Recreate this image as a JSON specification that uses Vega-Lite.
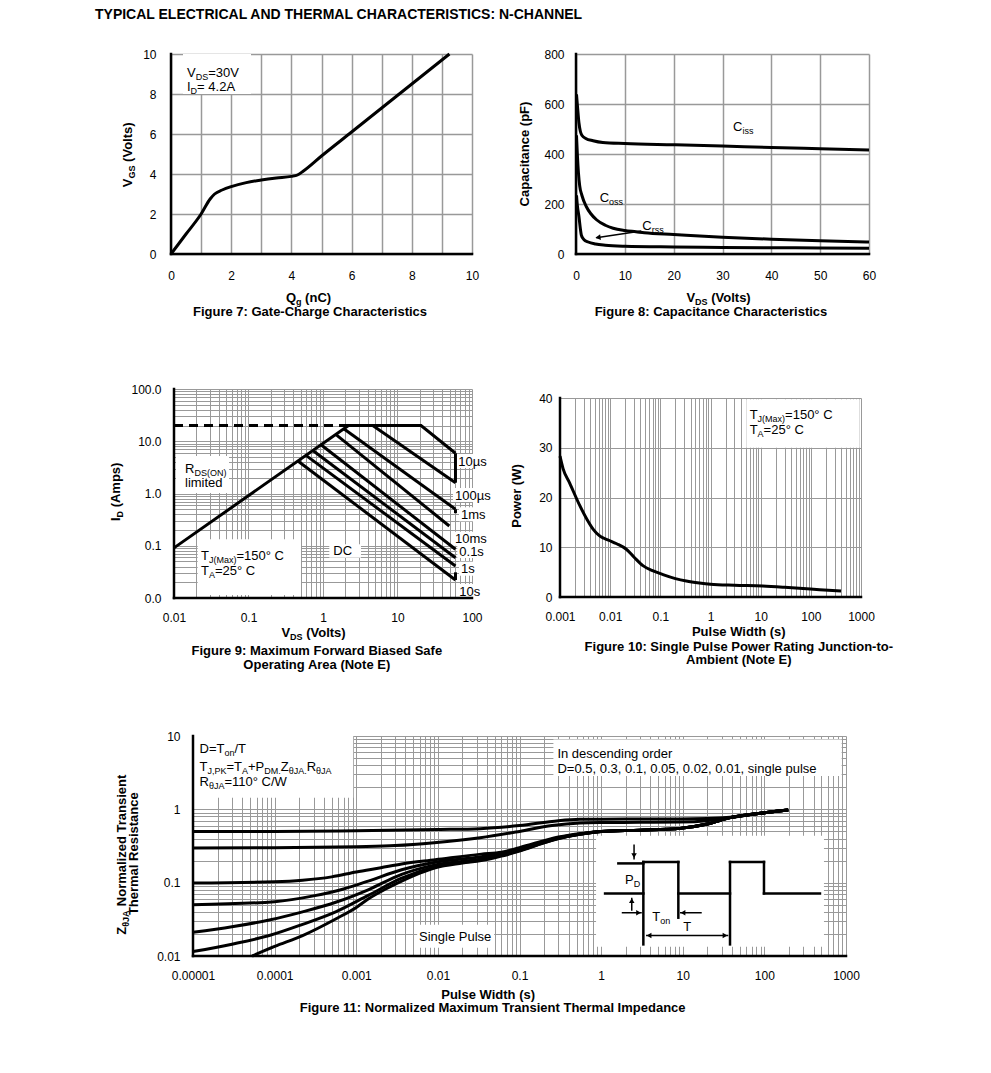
{
"$schema": "https://vega.github.io/schema/vega-lite/v6.json",
"background": "white",
"padding": {"left": 95, "top": 0, "right": 0, "bottom": 0},
"spacing": 0,
"align": "none",
"config": {
  "view": {"stroke": null},
  "font": "Liberation Sans",
  "axis": {"domain": false, "ticks": false, "tickSize": 0, "labelFont": "Liberation Sans", "labelFontSize": 12, "labelColor": "#000000", "gridColor": "#999999", "gridWidth": 1, "gridOpacity": 1, "labelFlush": false, "labelOverlap": false, "labelBound": false}
},
"datasets": {
  "sp": [{"x": 0, "y": 1, "x2": 0, "y2": 1}],
  "a0": [{"x": 0, "y": 25, "x2": 500, "y2": 0}],
  "t0": [{"t": "TYPICAL ELECTRICAL AND THERMAL CHARACTERISTICS: N-CHANNEL", "x": 0, "y": 6}],
  "a7": [{"x": -2.4585, "y": 11.4, "x2": 10.9635, "y2": -3.35}],
  "b7": [{"x": 0.3987, "x2": 2.6578, "y": 8.0, "y2": 10}],
  "c7": [{"x":0,"y":0},{"x":0.5,"y":1.0},{"x":1.0,"y":2.0},{"x":1.3,"y":2.75},{"x":1.45,"y":3.0},{"x":1.7,"y":3.2},{"x":2.0,"y":3.37},{"x":2.5,"y":3.57},{"x":3.0,"y":3.7},{"x":3.5,"y":3.8},{"x":4.0,"y":3.88},{"x":4.2,"y":3.95},{"x":4.4,"y":4.15},{"x":5.0,"y":4.9},{"x":6.0,"y":6.1},{"x":7.0,"y":7.3},{"x":8.0,"y":8.5},{"x":9.0,"y":9.7},{"x":9.25,"y":10.0}],
  "f7": [{"x":0,"y":0,"x2":0,"y2":10},{"x":0,"y":0,"x2":10,"y2":0}],
  "t7": [
    {"k":"n","t":"V","x":0.5316,"y":8.835},
    {"k":"s","t":"DS","x":0.8206,"y":8.685},
    {"k":"n","t":"=30V","x":1.2359,"y":8.835},
    {"k":"n","t":"I","x":0.5316,"y":8.17},
    {"k":"s","t":"D","x":0.6512,"y":8.02},
    {"k":"n","t":"= 4.2A","x":0.8671,"y":8.17},
    {"k":"r","t":"V","x":-1.2957,"y":3.34},
    {"k":"rs","t":"GS","x":-1.196,"y":3.775},
    {"k":"r","t":"(Volts)","x":-1.2957,"y":4.6055},
    {"k":"b","t":"Q","x":3.8173,"y":-2.415},
    {"k":"bs","t":"g","x":4.1528,"y":-2.565},
    {"k":"b","t":"(nC)","x":4.4554,"y":-2.415},
    {"k":"bc","t":"Figure 7: Gate-Charge Characteristics","x":4.6179,"y":-3.08}
  ],
  "a8": [{"x": -14.95, "y": 912, "x2": 66.967, "y2": -268}],
  "c8": [
    {"s":"Ciss","x":0.1,"y":639},{"s":"Ciss","x":0.35,"y":580},{"s":"Ciss","x":0.6,"y":525},{"s":"Ciss","x":0.9,"y":490},{"s":"Ciss","x":1.2,"y":475},{"s":"Ciss","x":2,"y":462},{"s":"Ciss","x":3.5,"y":453},{"s":"Ciss","x":5.5,"y":446},{"s":"Ciss","x":10,"y":442},{"s":"Ciss","x":20,"y":437},{"s":"Ciss","x":30,"y":432},{"s":"Ciss","x":40,"y":426},{"s":"Ciss","x":50,"y":421},{"s":"Ciss","x":60,"y":416},
    {"s":"Coss","x":0.1,"y":475},{"s":"Coss","x":0.3,"y":390},{"s":"Coss","x":0.5,"y":325},{"s":"Coss","x":0.76,"y":272},{"s":"Coss","x":1.2,"y":235},{"s":"Coss","x":2.1,"y":190},{"s":"Coss","x":3,"y":162},{"s":"Coss","x":4.2,"y":137},{"s":"Coss","x":6,"y":115},{"s":"Coss","x":7.6,"y":103},{"s":"Coss","x":10,"y":94},{"s":"Coss","x":12.3,"y":89},{"s":"Coss","x":14,"y":85},{"s":"Coss","x":20,"y":78},{"s":"Coss","x":30,"y":67},{"s":"Coss","x":40,"y":59},{"s":"Coss","x":50,"y":53},{"s":"Coss","x":60,"y":48},
    {"s":"Crss","x":0.1,"y":235},{"s":"Crss","x":0.3,"y":190},{"s":"Crss","x":0.6,"y":150},{"s":"Crss","x":0.9,"y":100},{"s":"Crss","x":1.1,"y":75},{"s":"Crss","x":1.6,"y":58},{"s":"Crss","x":2.5,"y":48},{"s":"Crss","x":4,"y":40},{"s":"Crss","x":6,"y":35},{"s":"Crss","x":10,"y":31},{"s":"Crss","x":20,"y":28},{"s":"Crss","x":30,"y":26},{"s":"Crss","x":40,"y":25},{"s":"Crss","x":50,"y":24},{"s":"Crss","x":60,"y":23}
  ],
  "f8": [{"x":0,"y":0,"x2":0,"y2":800},{"x":0,"y":0,"x2":60,"y2":0}],
  "r8": [{"x":13.373,"y":92,"x2":4.157,"y2":65.2}],
  "h8": [{"x":4.505,"y":66}],
  "t8": [
    {"k":"n","t":"C","x":32.152,"y":493.4},{"k":"s","t":"iss","x":34.077,"y":481.4},
    {"k":"n","t":"C","x":4.8536,"y":206.6},{"k":"s","t":"oss","x":6.7786,"y":194.6},
    {"k":"n","t":"C","x":13.578,"y":97.4},{"k":"s","t":"rss","x":15.503,"y":85.4},
    {"k":"rc","t":"Capacitance (pF)","x":-9.625,"y":400},
    {"k":"b","t":"V","x":22.609,"y":-193.2},{"k":"bs","t":"DS","x":24.39,"y":-205.2},{"k":"b","t":"(Volts)","x":27.688,"y":-193.2},
    {"k":"bc","t":"Figure 8: Capacitance Characteristics","x":27.647,"y":-246.4}
  ],
  "a9": [{"x":0.00092553,"y":2001,"x2":245.1,"y2":0.00020691}],
  "b9": [
    {"x":0.010637,"x2":0.05474,"y":1.0224,"y2":5.221},
    {"x":0.020797,"x2":0.50663,"y":0.011413,"y2":0.13283},
    {"x":1.2148,"x2":3.2364,"y":0.059076,"y2":0.10662},
    {"x":61.56,"x2":167.6,"y":3.076,"y2":5.702},
    {"x":55.59,"x2":189.6,"y":0.6877,"y2":1.2746},
    {"x":66.91,"x2":162.0,"y":0.29369,"y2":0.54425},
    {"x":55.59,"x2":167.9,"y":0.10023,"y2":0.18572},
    {"x":63.49,"x2":153.7,"y":0.058306,"y2":0.10803},
    {"x":66.91,"x2":115.6,"y":0.026715,"y2":0.049514},
    {"x":63.49,"x2":137.5,"y":0.01,"y2":0.018526}
  ],
  "c9": [
    {"s":"a","x":0.01,"y":0.091},{"s":"a","x":2.2,"y":20},{"s":"a","x":20.7,"y":20},{"s":"a","x":60,"y":5.9},
    {"s":"b","x":4.65,"y":20},{"s":"b","x":60,"y":1.61},
    {"s":"c","x":1.9,"y":17.3},{"s":"c","x":60,"y":0.5},
    {"s":"d","x":1.48,"y":13.5},{"s":"d","x":49.6,"y":0.239},
    {"s":"e","x":0.94,"y":8.55},{"s":"e","x":60,"y":0.0855},
    {"s":"f","x":0.73,"y":6.64},{"s":"f","x":60,"y":0.0589},
    {"s":"g","x":0.59,"y":5.37},{"s":"g","x":60,"y":0.041},
    {"s":"h","x":0.46,"y":4.19},{"s":"h","x":60,"y":0.0221}
  ],
  "d9": [{"x":0.01,"y":20},{"x":2.2,"y":20}],
  "r9": [{"x":60,"y":5.9,"x2":60,"y2":1.61},{"x":60,"y":0.5,"x2":60,"y2":0.42},{"x":60,"y":0.031,"x2":60,"y2":0.0221}],
  "f9": [{"x":0.01,"y":0.01,"x2":0.01,"y2":100},{"x":0.01,"y":0.01,"x2":100,"y2":0.01}],
  "t9": [
    {"k":"n","t":"R","x":0.014053,"y":2.4734},{"k":"s","t":"DS(ON)","x":0.018785,"y":2.1673},{"k":"n","t":"limited","x":0.014053,"y":1.3113},
    {"k":"n","t":"T","x":0.02304,"y":0.0542},{"k":"s","t":"J(Max)","x":0.029404,"y":0.047485},{"k":"n","t":"=150° C","x":0.068803,"y":0.0542},
    {"k":"n","t":"T","x":0.02304,"y":0.027978},{"k":"s","t":"A","x":0.029404,"y":0.024521},{"k":"n","t":"=25° C","x":0.035399,"y":0.027978},
    {"k":"c","t":"DC","x":1.8382,"y":0.067559},
    {"k":"n","t":"10µs","x":65.49,"y":3.4119},
    {"k":"n","t":"100µs","x":59.137,"y":0.76264},
    {"k":"n","t":"1ms","x":71.16,"y":0.32577},
    {"k":"n","t":"10ms","x":59.137,"y":0.11115},
    {"k":"n","t":"0.1s","x":67.53,"y":0.06464},
    {"k":"n","t":"1s","x":71.16,"y":0.029623},
    {"k":"n","t":"10s","x":67.53,"y":0.011092},
    {"k":"r","t":"I","x":0.0019021,"y":0.297},{"k":"rs","t":"D","x":0.0020868,"y":0.34792},{"k":"r","t":"(Amps)","x":0.0019021,"y":0.54325},
    {"k":"b","t":"V","x":0.27641,"y":0.0017696},{"k":"bs","t":"DS","x":0.36172,"y":0.0015506},{"k":"b","t":"(Volts)","x":0.59484,"y":0.0017696},
    {"k":"bc","t":"Figure 9: Maximum Forward Biased Safe","x":0.82541,"y":0.00082339},
    {"k":"bc","t":"Operating Area (Note E)","x":0.82541,"y":0.00043855}
  ],
  "a10": [{"x":0.000073077,"y":41.608,"x2":6868,"y2":-17.889}],
  "b10": [{"x":5.169,"x2":941.3,"y":30.01,"y2":39.74}],
  "c10": [{"x":0.001,"y":28.3},{"x":0.00115,"y":25.8},{"x":0.00156,"y":22.9},{"x":0.0025,"y":18.3},{"x":0.0035,"y":15.5},{"x":0.0046,"y":13.6},{"x":0.006,"y":12.4},{"x":0.0075,"y":11.8},{"x":0.0105,"y":11.2},{"x":0.0135,"y":10.7},{"x":0.021,"y":9.6},{"x":0.03,"y":8.0},{"x":0.045,"y":6.3},{"x":0.07,"y":5.3},{"x":0.113,"y":4.5},{"x":0.2,"y":3.7},{"x":0.33,"y":3.2},{"x":0.6,"y":2.8},{"x":1.0,"y":2.55},{"x":3,"y":2.35},{"x":11,"y":2.2},{"x":30,"y":1.95},{"x":70,"y":1.7},{"x":150,"y":1.45},{"x":400,"y":1.2}],
  "f10": [{"x":0.001,"y":0,"x2":0.001,"y2":40},{"x":0.001,"y":0,"x2":1000,"y2":0}],
  "t10": [
    {"k":"n","t":"T","x":6.0412,"y":35.789},{"k":"s","t":"J(Max)","x":8.683,"y":35.186},{"k":"n","t":"=150° C","x":30.67,"y":35.789},
    {"k":"n","t":"T","x":6.0412,"y":32.774},{"k":"s","t":"A","x":8.683,"y":32.171},{"k":"n","t":"=25° C","x":11.43,"y":32.774},
    {"k":"rc","t":"Power (W)","x":0.00016395,"y":20.302},
    {"k":"bc","t":"Pulse Width (s)","x":3.6645,"y":-7.769},
    {"k":"bc","t":"Figure 10: Single Pulse Power Rating Junction-to-","x":3.6645,"y":-10.784},
    {"k":"bc","t":"Ambient (Note E)","x":3.6645,"y":-13.457}
  ],
  "a11": [{"x":6.5463e-7,"y":45.58,"x2":4577,"y2":0.0008995}],
  "b11": [
    {"x":0.00001,"x2":0.000918,"y":1.441,"y2":10},
    {"x":0.2602,"x2":884.5,"y":2.849,"y2":8.99},
    {"x":0.00558,"x2":0.0489,"y":0.01298,"y2":0.0267},
    {"x":0.867,"x2":537,"y":0.01339,"y2":0.437}
  ],
  "c11": [
    {"s":"D5","x":0.00001,"y":0.5},{"s":"D5","x":0.0001,"y":0.5},{"s":"D5","x":0.001,"y":0.51},{"s":"D5","x":0.01,"y":0.53},{"s":"D5","x":0.033,"y":0.545},{"s":"D5","x":0.1,"y":0.6},{"s":"D5","x":0.3,"y":0.7},{"s":"D5","x":0.55,"y":0.73},{"s":"D5","x":1,"y":0.735},{"s":"D5","x":3,"y":0.74},{"s":"D5","x":9.3,"y":0.74},{"s":"D5","x":20,"y":0.75},{"s":"D5","x":38,"y":0.78},{"s":"D5","x":100,"y":0.9},{"s":"D5","x":196,"y":0.98},
    {"s":"D3","x":0.00001,"y":0.297},{"s":"D3","x":0.0001,"y":0.3},{"s":"D3","x":0.001,"y":0.31},{"s":"D3","x":0.003,"y":0.32},{"s":"D3","x":0.009,"y":0.35},{"s":"D3","x":0.033,"y":0.41},{"s":"D3","x":0.1,"y":0.5},{"s":"D3","x":0.25,"y":0.6},{"s":"D3","x":0.55,"y":0.65},{"s":"D3","x":1,"y":0.66},{"s":"D3","x":3,"y":0.665},{"s":"D3","x":9.3,"y":0.67},{"s":"D3","x":20,"y":0.7},{"s":"D3","x":38,"y":0.77},{"s":"D3","x":100,"y":0.9},{"s":"D3","x":196,"y":0.98},
    {"s":"D1","x":0.00001,"y":0.099},{"s":"D1","x":0.0001,"y":0.103},{"s":"D1","x":0.00022,"y":0.108},{"s":"D1","x":0.0005,"y":0.12},{"s":"D1","x":0.001,"y":0.14},{"s":"D1","x":0.002,"y":0.16},{"s":"D1","x":0.0036,"y":0.18},{"s":"D1","x":0.0093,"y":0.205},{"s":"D1","x":0.034,"y":0.245},{"s":"D1","x":0.06,"y":0.26},{"s":"D1","x":0.1,"y":0.3},{"s":"D1","x":0.3,"y":0.42},{"s":"D1","x":0.57,"y":0.47},{"s":"D1","x":1,"y":0.5},{"s":"D1","x":3,"y":0.52},{"s":"D1","x":9.3,"y":0.55},{"s":"D1","x":20,"y":0.63},{"s":"D1","x":38,"y":0.77},{"s":"D1","x":100,"y":0.9},{"s":"D1","x":196,"y":0.98},
    {"s":"D05","x":0.00001,"y":0.05},{"s":"D05","x":0.0001,"y":0.055},{"s":"D05","x":0.0003,"y":0.066},{"s":"D05","x":0.0007,"y":0.082},{"s":"D05","x":0.0014,"y":0.105},{"s":"D05","x":0.0036,"y":0.15},{"s":"D05","x":0.0093,"y":0.19},{"s":"D05","x":0.034,"y":0.225},{"s":"D05","x":0.1,"y":0.285},{"s":"D05","x":0.3,"y":0.41},{"s":"D05","x":0.57,"y":0.465},{"s":"D05","x":1,"y":0.5},{"s":"D05","x":3,"y":0.52},{"s":"D05","x":9.3,"y":0.55},{"s":"D05","x":20,"y":0.63},{"s":"D05","x":38,"y":0.77},{"s":"D05","x":100,"y":0.9},{"s":"D05","x":196,"y":0.98},
    {"s":"D02","x":0.00001,"y":0.021},{"s":"D02","x":0.00003,"y":0.025},{"s":"D02","x":0.000086,"y":0.031},{"s":"D02","x":0.00022,"y":0.04},{"s":"D02","x":0.00056,"y":0.054},{"s":"D02","x":0.0014,"y":0.08},{"s":"D02","x":0.0036,"y":0.13},{"s":"D02","x":0.0093,"y":0.175},{"s":"D02","x":0.034,"y":0.21},{"s":"D02","x":0.1,"y":0.28},{"s":"D02","x":0.3,"y":0.405},{"s":"D02","x":0.57,"y":0.46},{"s":"D02","x":1,"y":0.5},{"s":"D02","x":3,"y":0.52},{"s":"D02","x":9.3,"y":0.55},{"s":"D02","x":20,"y":0.63},{"s":"D02","x":38,"y":0.77},{"s":"D02","x":100,"y":0.9},{"s":"D02","x":196,"y":0.98},
    {"s":"D01","x":0.00001,"y":0.0115},{"s":"D01","x":0.00003,"y":0.0145},{"s":"D01","x":0.000086,"y":0.019},{"s":"D01","x":0.00022,"y":0.027},{"s":"D01","x":0.00056,"y":0.04},{"s":"D01","x":0.0014,"y":0.067},{"s":"D01","x":0.0036,"y":0.115},{"s":"D01","x":0.0093,"y":0.165},{"s":"D01","x":0.034,"y":0.205},{"s":"D01","x":0.1,"y":0.275},{"s":"D01","x":0.3,"y":0.4},{"s":"D01","x":0.57,"y":0.46},{"s":"D01","x":1,"y":0.5},{"s":"D01","x":3,"y":0.52},{"s":"D01","x":9.3,"y":0.55},{"s":"D01","x":20,"y":0.63},{"s":"D01","x":38,"y":0.77},{"s":"D01","x":100,"y":0.9},{"s":"D01","x":196,"y":0.98},
    {"s":"SP","x":0.000053,"y":0.01},{"s":"SP","x":0.0001,"y":0.0135},{"s":"SP","x":0.00022,"y":0.019},{"s":"SP","x":0.00056,"y":0.032},{"s":"SP","x":0.001,"y":0.046},{"s":"SP","x":0.0014,"y":0.06},{"s":"SP","x":0.0022,"y":0.08},{"s":"SP","x":0.0036,"y":0.105},{"s":"SP","x":0.006,"y":0.135},{"s":"SP","x":0.0093,"y":0.16},{"s":"SP","x":0.02,"y":0.185},{"s":"SP","x":0.034,"y":0.2},{"s":"SP","x":0.06,"y":0.23},{"s":"SP","x":0.1,"y":0.27},{"s":"SP","x":0.2,"y":0.35},{"s":"SP","x":0.3,"y":0.4},{"s":"SP","x":0.57,"y":0.46},{"s":"SP","x":1,"y":0.5},{"s":"SP","x":3,"y":0.52},{"s":"SP","x":9.3,"y":0.55},{"s":"SP","x":20,"y":0.63},{"s":"SP","x":38,"y":0.77},{"s":"SP","x":100,"y":0.9},{"s":"SP","x":196,"y":0.98}
  ],
  "w11": [
    {"x":1.118,"y":0.0714,"x2":3.291,"y2":0.0714},
    {"x":3.291,"y":0.0144,"x2":3.291,"y2":0.1914},
    {"x":3.291,"y":0.1914,"x2":8.83,"y2":0.1914},
    {"x":8.83,"y":0.1914,"x2":8.83,"y2":0.0333},
    {"x":8.83,"y":0.0714,"x2":37.93,"y2":0.0714},
    {"x":37.93,"y":0.0144,"x2":37.93,"y2":0.1914},
    {"x":37.93,"y":0.1914,"x2":98.9,"y2":0.1914},
    {"x":98.9,"y":0.1914,"x2":98.9,"y2":0.0714},
    {"x":98.9,"y":0.0714,"x2":479.8,"y2":0.0714},
    {"x":1.626,"y":0.1831,"x2":3.291,"y2":0.1831}
  ],
  "r11": [
    {"x":2.532,"y":0.3326,"x2":2.532,"y2":0.2077},
    {"x":2.373,"y":0.0415,"x2":2.373,"y2":0.0624},
    {"x":1.79,"y":0.0389,"x2":3.146,"y2":0.0389},
    {"x":9.26,"y":0.0389,"x2":17.08,"y2":0.0389},
    {"x":3.551,"y":0.0191,"x2":36.14,"y2":0.0191}
  ],
  "h11": [
    {"x":2.532,"y":0.2332,"dir":"down"},
    {"x":2.373,"y":0.05676,"dir":"up"},
    {"x":2.8742,"y":0.0389,"dir":"right"},
    {"x":10.079,"y":0.0389,"dir":"left"},
    {"x":3.8658,"y":0.0191,"dir":"left"},
    {"x":32.94,"y":0.0191,"dir":"right"}
  ],
  "f11": [{"x":0.00001,"y":0.01,"x2":0.00001,"y2":10},{"x":0.00001,"y":0.01,"x2":1000,"y2":0.01}],
  "t11": [
    {"k":"n","t":"D=T","x":0.000012045,"y":5.8563},{"k":"s","t":"on","x":0.000024302,"y":5.3311},{"k":"n","t":"/T","x":0.000032218,"y":5.8563},
    {"k":"n","t":"T","x":0.000012045,"y":3.349},{"k":"s","t":"J,PK","x":0.000015067,"y":3.0479},{"k":"n","t":"=T","x":0.000025742,"y":3.349},{"k":"s","t":"A","x":0.000039883,"y":3.0479},{"k":"n","t":"+P","x":0.000047226,"y":3.349},{"k":"s","t":"DM.","x":0.000074697,"y":3.0479},{"k":"n","t":"Z","x":0.00011897,"y":3.349},{"k":"s","t":"θJA.","x":0.00014884,"y":3.0479},{"k":"n","t":"R","x":0.00024713,"y":3.349},{"k":"s","t":"θJA","x":0.00032215,"y":3.0479},
    {"k":"n","t":"R","x":0.000012045,"y":2.1038},{"k":"s","t":"θJA","x":0.000015698,"y":1.9151},{"k":"n","t":"=110° C/W","x":0.000024297,"y":2.1038},
    {"k":"n","t":"In descending order","x":0.29131,"y":5.0061},
    {"k":"n","t":"D=0.5, 0.3, 0.1, 0.05, 0.02, 0.01, single pulse","x":0.29131,"y":3.1262},
    {"k":"c","t":"Single Pulse","x":0.016281,"y":0.01584},
    {"k":"n","t":"P","x":1.9648,"y":0.095766},{"k":"s","t":"D","x":2.5089,"y":0.087174},
    {"k":"n","t":"T","x":4.2423,"y":0.029691},{"k":"s","t":"on","x":5.3063,"y":0.02702},
    {"k":"n","t":"T","x":10.165,"y":0.021689},
    {"k":"r","t":"Z","x":0.0000015253,"y":0.019492},{"k":"rs","t":"θJA","x":0.0000016596,"y":0.025003},{"k":"r","t":"Normalized Transient","x":0.0000015253,"y":0.047757},
    {"k":"rc","t":"Thermal Resistance","x":0.0000021146,"y":0.24838},
    {"k":"bc","t":"Pulse Width (s)","x":0.041275,"y":0.0025876},
    {"k":"bc","t":"Figure 11: Normalized Maximum Transient Thermal Impedance","x":0.046879,"y":0.0017043}
  ]
},
"vconcat": [
  {
    "width": 500, "height": 25,
    "encoding": {
      "x": {"field": "x", "type": "quantitative", "scale": {"domain": [0, 500], "nice": false, "zero": false}, "axis": null},
      "y": {"field": "y", "type": "quantitative", "scale": {"domain": [0, 25], "nice": false, "zero": false}, "axis": null}
    },
    "layer": [
      {"data": {"name": "a0"}, "mark": {"type": "rule", "opacity": 0}, "encoding": {"x2": {"field": "x2"}, "y2": {"field": "y2"}}},
      {"data": {"name": "t0"}, "mark": {"type": "text", "align": "left", "baseline": "alphabetic", "fontSize": 14, "fontWeight": "bold", "color": "black"}, "encoding": {"text": {"field": "t"}}}
    ]
  },
  {"spacing": 0, "align": "none", "hconcat": [
    {
      "width": 1, "height": 1, "data": {"name": "sp"},
      "mark": {"type": "rule", "opacity": 0},
      "encoding": {"x": {"field": "x", "type": "quantitative", "scale": {"domain": [0, 1]}, "axis": null}, "y": {"field": "y", "type": "quantitative", "scale": {"domain": [0, 1]}, "axis": null}, "x2": {"field": "x2"}, "y2": {"field": "y2"}}
    },
    {
      "width": 301, "height": 200,
      "encoding": {
        "x": {"field": "x", "type": "quantitative", "scale": {"domain": [0, 10], "nice": false, "zero": false}, "axis": {"title": null, "values": [0,1,2,3,4,5,6,7,8,9,10], "labelExpr": "datum.value % 2 === 0 ? datum.label : ''", "gridWidth": 1.5, "labelPadding": 16}},
        "y": {"field": "y", "type": "quantitative", "scale": {"domain": [0, 10], "nice": false, "zero": false}, "axis": {"title": null, "values": [0,2,4,6,8,10], "gridWidth": 1.5, "labelPadding": 15}}
      },
      "layer": [
        {"data": {"name": "a7"}, "mark": {"type": "rule", "opacity": 0}, "encoding": {"x2": {"field": "x2"}, "y2": {"field": "y2"}}},
        {"data": {"name": "b7"}, "mark": {"type": "rect", "fill": "white"}, "encoding": {"x2": {"field": "x2"}, "y2": {"field": "y2"}}},
        {"data": {"name": "c7"}, "mark": {"type": "line", "color": "black", "strokeWidth": 3, "interpolate": "monotone"}},
        {"data": {"name": "f7"}, "mark": {"type": "rule", "color": "black", "strokeWidth": 2.5, "strokeCap": "square"}, "encoding": {"x2": {"field": "x2"}, "y2": {"field": "y2"}}},
        {"data": {"name": "t7"}, "transform": [{"filter": "datum.k == 'n'"}], "mark": {"type": "text", "align": "left", "baseline": "alphabetic", "fontSize": 13, "color": "black"}, "encoding": {"text": {"field": "t"}}},
        {"data": {"name": "t7"}, "transform": [{"filter": "datum.k == 's'"}], "mark": {"type": "text", "align": "left", "baseline": "alphabetic", "fontSize": 9, "color": "black"}, "encoding": {"text": {"field": "t"}}},
        {"data": {"name": "t7"}, "transform": [{"filter": "datum.k == 'r'"}], "mark": {"type": "text", "align": "left", "baseline": "alphabetic", "fontSize": 13, "fontWeight": "bold", "angle": 270, "color": "black"}, "encoding": {"text": {"field": "t"}}},
        {"data": {"name": "t7"}, "transform": [{"filter": "datum.k == 'rs'"}], "mark": {"type": "text", "align": "left", "baseline": "alphabetic", "fontSize": 9, "fontWeight": "bold", "angle": 270, "color": "black"}, "encoding": {"text": {"field": "t"}}},
        {"data": {"name": "t7"}, "transform": [{"filter": "datum.k == 'b'"}], "mark": {"type": "text", "align": "left", "baseline": "alphabetic", "fontSize": 13, "fontWeight": "bold", "color": "black"}, "encoding": {"text": {"field": "t"}}},
        {"data": {"name": "t7"}, "transform": [{"filter": "datum.k == 'bs'"}], "mark": {"type": "text", "align": "left", "baseline": "alphabetic", "fontSize": 9, "fontWeight": "bold", "color": "black"}, "encoding": {"text": {"field": "t"}}},
        {"data": {"name": "t7"}, "transform": [{"filter": "datum.k == 'bc'"}], "mark": {"type": "text", "align": "center", "baseline": "alphabetic", "fontSize": 13, "fontWeight": "bold", "color": "black"}, "encoding": {"text": {"field": "t"}}}
      ]
    },
    {
      "width": 293, "height": 200,
      "encoding": {
        "x": {"field": "x", "type": "quantitative", "scale": {"domain": [0, 60], "nice": false, "zero": false}, "axis": {"title": null, "values": [0,10,20,30,40,50,60], "gridWidth": 1.5, "labelPadding": 16}},
        "y": {"field": "y", "type": "quantitative", "scale": {"domain": [0, 800], "nice": false, "zero": false}, "axis": {"title": null, "values": [0,200,400,600,800], "gridWidth": 1.5, "labelPadding": 12}}
      },
      "layer": [
        {"data": {"name": "a8"}, "mark": {"type": "rule", "opacity": 0}, "encoding": {"x2": {"field": "x2"}, "y2": {"field": "y2"}}},
        {"data": {"name": "c8"}, "mark": {"type": "line", "color": "black", "strokeWidth": 3, "interpolate": "monotone"}, "encoding": {"detail": {"field": "s"}}},
        {"data": {"name": "r8"}, "mark": {"type": "rule", "color": "black", "strokeWidth": 1.5}, "encoding": {"x2": {"field": "x2"}, "y2": {"field": "y2"}}},
        {"data": {"name": "h8"}, "mark": {"type": "point", "shape": "triangle-left", "filled": true, "color": "black", "opacity": 1, "size": 35, "angle": 352}},
        {"data": {"name": "f8"}, "mark": {"type": "rule", "color": "black", "strokeWidth": 2.5, "strokeCap": "square"}, "encoding": {"x2": {"field": "x2"}, "y2": {"field": "y2"}}},
        {"data": {"name": "t8"}, "transform": [{"filter": "datum.k == 'n'"}], "mark": {"type": "text", "align": "left", "baseline": "alphabetic", "fontSize": 13, "color": "black"}, "encoding": {"text": {"field": "t"}}},
        {"data": {"name": "t8"}, "transform": [{"filter": "datum.k == 's'"}], "mark": {"type": "text", "align": "left", "baseline": "alphabetic", "fontSize": 9, "color": "black"}, "encoding": {"text": {"field": "t"}}},
        {"data": {"name": "t8"}, "transform": [{"filter": "datum.k == 'rc'"}], "mark": {"type": "text", "align": "center", "baseline": "alphabetic", "fontSize": 13, "fontWeight": "bold", "angle": 270, "color": "black"}, "encoding": {"text": {"field": "t"}}},
        {"data": {"name": "t8"}, "transform": [{"filter": "datum.k == 'b'"}], "mark": {"type": "text", "align": "left", "baseline": "alphabetic", "fontSize": 13, "fontWeight": "bold", "color": "black"}, "encoding": {"text": {"field": "t"}}},
        {"data": {"name": "t8"}, "transform": [{"filter": "datum.k == 'bs'"}], "mark": {"type": "text", "align": "left", "baseline": "alphabetic", "fontSize": 9, "fontWeight": "bold", "color": "black"}, "encoding": {"text": {"field": "t"}}},
        {"data": {"name": "t8"}, "transform": [{"filter": "datum.k == 'bc'"}], "mark": {"type": "text", "align": "center", "baseline": "alphabetic", "fontSize": 13, "fontWeight": "bold", "color": "black"}, "encoding": {"text": {"field": "t"}}}
      ]
    }
  ]},
  {"spacing": 0, "align": "none", "hconcat": [
    {
      "width": 1, "height": 1, "data": {"name": "sp"},
      "mark": {"type": "rule", "opacity": 0},
      "encoding": {"x": {"field": "x", "type": "quantitative", "scale": {"domain": [0, 1]}, "axis": null}, "y": {"field": "y", "type": "quantitative", "scale": {"domain": [0, 1]}, "axis": null}, "x2": {"field": "x2"}, "y2": {"field": "y2"}}
    },
    {
      "width": 298, "height": 209,
      "encoding": {
        "x": {"field": "x", "type": "quantitative", "scale": {"type": "log", "domain": [0.01, 100], "nice": false}, "axis": {"title": null, "values": [0.01,0.02,0.03,0.04,0.05,0.06,0.07,0.08,0.09,0.1,0.2,0.3,0.4,0.5,0.6,0.7,0.8,0.9,1,2,3,4,5,6,7,8,9,10,20,30,40,50,60,70,80,90,100], "format": "~f", "labelExpr": "abs(log(datum.value)/LN10 - round(log(datum.value)/LN10)) < 0.001 ? datum.label : ''", "labelPadding": 14}},
        "y": {"field": "y", "type": "quantitative", "scale": {"type": "log", "domain": [0.01, 100], "nice": false}, "axis": {"title": null, "values": [0.01,0.02,0.03,0.04,0.05,0.06,0.07,0.08,0.09,0.1,0.2,0.3,0.4,0.5,0.6,0.7,0.8,0.9,1,2,3,4,5,6,7,8,9,10,20,30,40,50,60,70,80,90,100], "format": ".1f", "labelExpr": "abs(log(datum.value)/LN10 - round(log(datum.value)/LN10)) < 0.001 ? datum.label : ''", "labelPadding": 13}}
      },
      "layer": [
        {"data": {"name": "a9"}, "mark": {"type": "rule", "opacity": 0}, "encoding": {"x2": {"field": "x2"}, "y2": {"field": "y2"}}},
        {"data": {"name": "b9"}, "mark": {"type": "rect", "fill": "white"}, "encoding": {"x2": {"field": "x2"}, "y2": {"field": "y2"}}},
        {"data": {"name": "d9"}, "mark": {"type": "line", "color": "black", "strokeWidth": 3, "strokeDash": [9, 6]}},
        {"data": {"name": "c9"}, "mark": {"type": "line", "color": "black", "strokeWidth": 3}, "encoding": {"detail": {"field": "s"}}},
        {"data": {"name": "r9"}, "mark": {"type": "rule", "color": "black", "strokeWidth": 3}, "encoding": {"x2": {"field": "x2"}, "y2": {"field": "y2"}}},
        {"data": {"name": "f9"}, "mark": {"type": "rule", "color": "black", "strokeWidth": 2.5, "strokeCap": "square"}, "encoding": {"x2": {"field": "x2"}, "y2": {"field": "y2"}}},
        {"data": {"name": "t9"}, "transform": [{"filter": "datum.k == 'n'"}], "mark": {"type": "text", "align": "left", "baseline": "alphabetic", "fontSize": 13, "color": "black"}, "encoding": {"text": {"field": "t"}}},
        {"data": {"name": "t9"}, "transform": [{"filter": "datum.k == 's'"}], "mark": {"type": "text", "align": "left", "baseline": "alphabetic", "fontSize": 9, "color": "black"}, "encoding": {"text": {"field": "t"}}},
        {"data": {"name": "t9"}, "transform": [{"filter": "datum.k == 'c'"}], "mark": {"type": "text", "align": "center", "baseline": "alphabetic", "fontSize": 13, "color": "black"}, "encoding": {"text": {"field": "t"}}},
        {"data": {"name": "t9"}, "transform": [{"filter": "datum.k == 'r'"}], "mark": {"type": "text", "align": "left", "baseline": "alphabetic", "fontSize": 13, "fontWeight": "bold", "angle": 270, "color": "black"}, "encoding": {"text": {"field": "t"}}},
        {"data": {"name": "t9"}, "transform": [{"filter": "datum.k == 'rs'"}], "mark": {"type": "text", "align": "left", "baseline": "alphabetic", "fontSize": 9, "fontWeight": "bold", "angle": 270, "color": "black"}, "encoding": {"text": {"field": "t"}}},
        {"data": {"name": "t9"}, "transform": [{"filter": "datum.k == 'b'"}], "mark": {"type": "text", "align": "left", "baseline": "alphabetic", "fontSize": 13, "fontWeight": "bold", "color": "black"}, "encoding": {"text": {"field": "t"}}},
        {"data": {"name": "t9"}, "transform": [{"filter": "datum.k == 'bs'"}], "mark": {"type": "text", "align": "left", "baseline": "alphabetic", "fontSize": 9, "fontWeight": "bold", "color": "black"}, "encoding": {"text": {"field": "t"}}},
        {"data": {"name": "t9"}, "transform": [{"filter": "datum.k == 'bc'"}], "mark": {"type": "text", "align": "center", "baseline": "alphabetic", "fontSize": 13, "fontWeight": "bold", "color": "black"}, "encoding": {"text": {"field": "t"}}}
      ]
    },
    {"spacing": 0, "align": "none", "vconcat": [
      {
        "width": 1, "height": 1, "data": {"name": "sp"},
        "mark": {"type": "rule", "opacity": 0},
        "encoding": {"x": {"field": "x", "type": "quantitative", "scale": {"domain": [0, 1]}, "axis": null}, "y": {"field": "y", "type": "quantitative", "scale": {"domain": [0, 1]}, "axis": null}, "x2": {"field": "x2"}, "y2": {"field": "y2"}}
      },
      {
        "width": 301, "height": 199,
        "encoding": {
          "x": {"field": "x", "type": "quantitative", "scale": {"type": "log", "domain": [0.001, 1000], "nice": false}, "axis": {"title": null, "values": [0.001,0.002,0.003,0.004,0.005,0.006,0.007,0.008,0.009,0.01,0.02,0.03,0.04,0.05,0.06,0.07,0.08,0.09,0.1,0.2,0.3,0.4,0.5,0.6,0.7,0.8,0.9,1,2,3,4,5,6,7,8,9,10,20,30,40,50,60,70,80,90,100,200,300,400,500,600,700,800,900,1000], "format": "~f", "labelExpr": "abs(log(datum.value)/LN10 - round(log(datum.value)/LN10)) < 0.001 ? datum.label : ''", "labelPadding": 14}},
          "y": {"field": "y", "type": "quantitative", "scale": {"domain": [0, 40], "nice": false, "zero": false}, "axis": {"title": null, "values": [0,10,20,30,40], "labelPadding": 8}}
        },
        "layer": [
          {"data": {"name": "a10"}, "mark": {"type": "rule", "opacity": 0}, "encoding": {"x2": {"field": "x2"}, "y2": {"field": "y2"}}},
          {"data": {"name": "b10"}, "mark": {"type": "rect", "fill": "white"}, "encoding": {"x2": {"field": "x2"}, "y2": {"field": "y2"}}},
          {"data": {"name": "c10"}, "mark": {"type": "line", "color": "black", "strokeWidth": 3, "interpolate": "monotone"}},
          {"data": {"name": "f10"}, "mark": {"type": "rule", "color": "black", "strokeWidth": 2.5, "strokeCap": "square"}, "encoding": {"x2": {"field": "x2"}, "y2": {"field": "y2"}}},
          {"data": {"name": "t10"}, "transform": [{"filter": "datum.k == 'n'"}], "mark": {"type": "text", "align": "left", "baseline": "alphabetic", "fontSize": 13, "color": "black"}, "encoding": {"text": {"field": "t"}}},
          {"data": {"name": "t10"}, "transform": [{"filter": "datum.k == 's'"}], "mark": {"type": "text", "align": "left", "baseline": "alphabetic", "fontSize": 9, "color": "black"}, "encoding": {"text": {"field": "t"}}},
          {"data": {"name": "t10"}, "transform": [{"filter": "datum.k == 'rc'"}], "mark": {"type": "text", "align": "center", "baseline": "alphabetic", "fontSize": 13, "fontWeight": "bold", "angle": 270, "color": "black"}, "encoding": {"text": {"field": "t"}}},
          {"data": {"name": "t10"}, "transform": [{"filter": "datum.k == 'bc'"}], "mark": {"type": "text", "align": "center", "baseline": "alphabetic", "fontSize": 13, "fontWeight": "bold", "color": "black"}, "encoding": {"text": {"field": "t"}}}
        ]
      }
    ]}
  ]},
  {"spacing": 0, "align": "none", "hconcat": [
    {
      "width": 1, "height": 1, "data": {"name": "sp"},
      "mark": {"type": "rule", "opacity": 0},
      "encoding": {"x": {"field": "x", "type": "quantitative", "scale": {"domain": [0, 1]}, "axis": null}, "y": {"field": "y", "type": "quantitative", "scale": {"domain": [0, 1]}, "axis": null}, "x2": {"field": "x2"}, "y2": {"field": "y2"}}
    },
    {
      "width": 653, "height": 220,
      "encoding": {
        "x": {"field": "x", "type": "quantitative", "scale": {"type": "log", "domain": [0.00001, 1000], "nice": false}, "axis": {"title": null, "values": [0.00001,0.00002,0.00003,0.00004,0.00005,0.00006,0.00007,0.00008,0.00009,0.0001,0.0002,0.0003,0.0004,0.0005,0.0006,0.0007,0.0008,0.0009,0.001,0.002,0.003,0.004,0.005,0.006,0.007,0.008,0.009,0.01,0.02,0.03,0.04,0.05,0.06,0.07,0.08,0.09,0.1,0.2,0.3,0.4,0.5,0.6,0.7,0.8,0.9,1,2,3,4,5,6,7,8,9,10,20,30,40,50,60,70,80,90,100,200,300,400,500,600,700,800,900,1000], "format": "~f", "labelExpr": "abs(log(datum.value)/LN10 - round(log(datum.value)/LN10)) < 0.001 ? datum.label : ''", "labelPadding": 14}},
        "y": {"field": "y", "type": "quantitative", "scale": {"type": "log", "domain": [0.01, 10], "nice": false}, "axis": {"title": null, "values": [0.01,0.02,0.03,0.04,0.05,0.06,0.07,0.08,0.09,0.1,0.2,0.3,0.4,0.5,0.6,0.7,0.8,0.9,1,2,3,4,5,6,7,8,9,10], "format": "~f", "labelExpr": "abs(log(datum.value)/LN10 - round(log(datum.value)/LN10)) < 0.001 ? datum.label : ''", "labelPadding": 13}}
      },
      "layer": [
        {"data": {"name": "a11"}, "mark": {"type": "rule", "opacity": 0}, "encoding": {"x2": {"field": "x2"}, "y2": {"field": "y2"}}},
        {"data": {"name": "b11"}, "mark": {"type": "rect", "fill": "white"}, "encoding": {"x2": {"field": "x2"}, "y2": {"field": "y2"}}},
        {"data": {"name": "c11"}, "mark": {"type": "line", "color": "black", "strokeWidth": 3, "interpolate": "monotone"}, "encoding": {"detail": {"field": "s"}}},
        {"data": {"name": "w11"}, "mark": {"type": "rule", "color": "black", "strokeWidth": 2.5, "strokeCap": "square"}, "encoding": {"x2": {"field": "x2"}, "y2": {"field": "y2"}}},
        {"data": {"name": "r11"}, "mark": {"type": "rule", "color": "black", "strokeWidth": 1.5}, "encoding": {"x2": {"field": "x2"}, "y2": {"field": "y2"}}},
        {"data": {"name": "h11"}, "transform": [{"filter": "datum.dir == 'left'"}], "mark": {"type": "point", "shape": "triangle-left", "filled": true, "color": "black", "opacity": 1, "size": 30}},
        {"data": {"name": "h11"}, "transform": [{"filter": "datum.dir == 'right'"}], "mark": {"type": "point", "shape": "triangle-right", "filled": true, "color": "black", "opacity": 1, "size": 30}},
        {"data": {"name": "h11"}, "transform": [{"filter": "datum.dir == 'up'"}], "mark": {"type": "point", "shape": "triangle-up", "filled": true, "color": "black", "opacity": 1, "size": 30}},
        {"data": {"name": "h11"}, "transform": [{"filter": "datum.dir == 'down'"}], "mark": {"type": "point", "shape": "triangle-down", "filled": true, "color": "black", "opacity": 1, "size": 30}},
        {"data": {"name": "f11"}, "mark": {"type": "rule", "color": "black", "strokeWidth": 2.5, "strokeCap": "square"}, "encoding": {"x2": {"field": "x2"}, "y2": {"field": "y2"}}},
        {"data": {"name": "t11"}, "transform": [{"filter": "datum.k == 'n'"}], "mark": {"type": "text", "align": "left", "baseline": "alphabetic", "fontSize": 13, "color": "black"}, "encoding": {"text": {"field": "t"}}},
        {"data": {"name": "t11"}, "transform": [{"filter": "datum.k == 's'"}], "mark": {"type": "text", "align": "left", "baseline": "alphabetic", "fontSize": 9, "color": "black"}, "encoding": {"text": {"field": "t"}}},
        {"data": {"name": "t11"}, "transform": [{"filter": "datum.k == 'c'"}], "mark": {"type": "text", "align": "center", "baseline": "alphabetic", "fontSize": 13, "color": "black"}, "encoding": {"text": {"field": "t"}}},
        {"data": {"name": "t11"}, "transform": [{"filter": "datum.k == 'r'"}], "mark": {"type": "text", "align": "left", "baseline": "alphabetic", "fontSize": 13, "fontWeight": "bold", "angle": 270, "color": "black"}, "encoding": {"text": {"field": "t"}}},
        {"data": {"name": "t11"}, "transform": [{"filter": "datum.k == 'rs'"}], "mark": {"type": "text", "align": "left", "baseline": "alphabetic", "fontSize": 9, "fontWeight": "bold", "angle": 270, "color": "black"}, "encoding": {"text": {"field": "t"}}},
        {"data": {"name": "t11"}, "transform": [{"filter": "datum.k == 'rc'"}], "mark": {"type": "text", "align": "center", "baseline": "alphabetic", "fontSize": 13, "fontWeight": "bold", "angle": 270, "color": "black"}, "encoding": {"text": {"field": "t"}}},
        {"data": {"name": "t11"}, "transform": [{"filter": "datum.k == 'bc'"}], "mark": {"type": "text", "align": "center", "baseline": "alphabetic", "fontSize": 13, "fontWeight": "bold", "color": "black"}, "encoding": {"text": {"field": "t"}}}
      ]
    }
  ]}
]
}
